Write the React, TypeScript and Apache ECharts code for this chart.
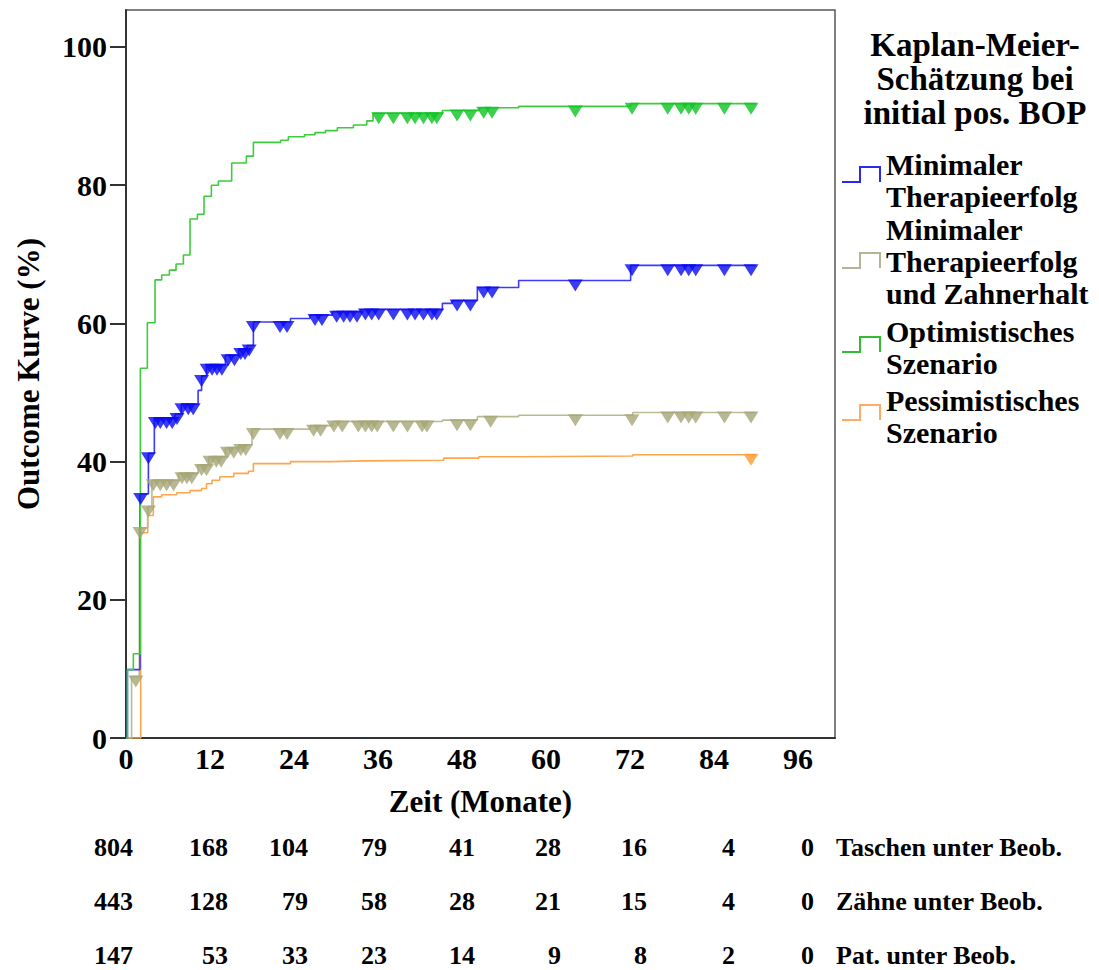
import React, { useEffect, useRef } from 'react';
import * as echarts from 'echarts';

// ---- axis ticks ----
const xTicks = [0, 12, 24, 36, 48, 60, 72, 84, 96];
const yTicks = [0, 20, 40, 60, 80, 100];

// ---- series names ----
const nameBlue = 'Minimaler Therapieerfolg';
const nameTan = 'Minimaler Therapieerfolg und Zahnerhalt';
const nameGreen = 'Optimistisches Szenario';
const nameOrange = 'Pessimistisches Szenario';

// ---- Kaplan-Meier steps: [month, outcome %] ----
const blueSteps: [number, number][] = [
  [0, 0], [0.2, 9.9], [2.0, 35.3], [3.2, 41.2], [4.05, 46.3], [7.0, 46.9], [7.9, 48.3],
  [10.3, 50.3], [10.8, 52.4], [11.5, 54.0], [14.2, 55.4], [16.1, 56.3], [17.3, 56.8],
  [18.2, 60.2], [23.5, 60.7], [26.3, 61.2], [29.5, 61.7], [33.5, 62.0], [45.2, 62.9],
  [46.6, 63.3], [50.2, 65.2], [56.1, 66.2], [72.1, 68.4], [90, 68.4],
];
const tanSteps: [number, number][] = [
  [0, 0], [0.8, 8.9], [1.9, 30.4], [3.1, 33.5], [3.7, 37.3], [7.5, 38.3], [10.3, 39.5],
  [11.8, 40.7], [14.2, 42.0], [16.1, 42.4], [18.0, 44.7], [26.3, 45.2], [29.5, 45.8],
  [45.2, 46.0], [50.2, 46.5], [56.1, 46.7], [72.4, 47.1], [90, 47.1],
];
const greenSteps: [number, number][] = [
  [0, 0], [0.2, 9.9], [1.05, 12.2], [2.05, 53.5], [3.05, 60.1], [4.15, 66.3], [5.1, 67.0],
  [6.2, 67.7], [7.15, 68.6], [8.2, 69.9], [9.15, 75.1], [10.2, 75.8], [11.15, 78.4],
  [12.2, 80.0], [13.2, 80.6], [15.1, 83.2], [17.2, 84.2], [18.2, 86.2], [22.1, 86.5],
  [23.2, 87.0], [25.5, 87.3], [27.0, 87.6], [28.5, 87.9], [30.2, 88.3], [32.5, 88.7],
  [34.4, 89.3], [35.3, 90.4], [45.2, 90.8], [50.5, 91.2], [56.1, 91.4], [72.1, 91.8], [90, 91.8],
];
const orangeSteps: [number, number][] = [
  [0, 0], [2.1, 29.7], [3.1, 32.2], [3.9, 34.9], [5.1, 35.2], [7.25, 35.5], [9.15, 35.8],
  [10.8, 36.1], [11.5, 36.8], [12.3, 37.3], [13.4, 37.8], [15.4, 38.3], [17.5, 38.6],
  [18.2, 39.7], [23.5, 40.0], [29.2, 40.1], [34.2, 40.2], [45.4, 40.5], [50.4, 40.7],
  [56.4, 40.8], [72.4, 41.0], [90, 41.0],
];

// ---- censoring times (months) ----
const blueCensor = [
  2.1, 3.2, 4.2, 4.9, 5.8, 6.6, 7.3, 8.0, 8.9, 9.6, 10.8, 11.6, 12.3, 13.0, 13.7, 14.6, 15.5,
  16.4, 17.0, 17.6, 18.2, 22.0, 23.0, 27.0, 28.0, 30.1, 31.1, 32.0, 33.0, 34.2, 35.1, 36.1,
  38.2, 40.2, 41.3, 42.5, 43.7, 44.4, 47.3, 49.2, 51.1, 52.3, 64.2, 72.3, 77.4, 79.3, 80.4,
  81.4, 85.5, 89.3,
];
const tanCensor = [
  1.4, 2.0, 3.2, 3.9, 4.9, 5.8, 6.8, 8.0, 8.7, 9.4, 10.8, 11.5, 12.0, 12.9, 13.6, 14.5, 15.4,
  16.4, 17.1, 18.2, 22.0, 23.0, 26.8, 27.8, 29.7, 30.9, 33.2, 34.2, 35.1, 35.9, 38.2, 40.2,
  42.3, 43.0, 47.3, 49.2, 52.1, 64.2, 72.3, 77.4, 79.3, 80.4, 81.4, 85.5, 89.3,
];
const greenCensor = [
  36.1, 38.2, 40.2, 41.3, 42.5, 43.7, 44.4, 47.3, 49.2, 51.1, 52.3, 64.2, 72.3, 77.4, 79.3,
  80.4, 81.4, 85.5, 89.3,
];
const orangeCensor = [89.3];

// ---- number at risk table ----
const riskLabels = ['Taschen unter Beob.', 'Zähne unter Beob.', 'Pat. unter Beob.'];
const riskTaschen = [804, 168, 104, 79, 41, 28, 16, 4, 0];
const riskZaehne = [443, 128, 79, 58, 28, 21, 15, 4, 0];
const riskPatienten = [147, 53, 33, 23, 14, 9, 8, 2, 0];

// ---- legend ----
const legendTitle = 'Kaplan-Meier-\nSchätzung bei\ninitial pos. BOP';
const legendTexts = [
  'Minimaler\nTherapieerfolg',
  'Minimaler\nTherapieerfolg\nund Zahnerhalt',
  'Optimistisches\nSzenario',
  'Pessimistisches\nSzenario',
];

// ---- layout / style (not data) ----
const FONT = '"Liberation Serif", "Times New Roman", serif';
const colBlue = { line: '#3a3aff', mark: '#0a0af0', legend: '#2a2aee' };
const colTan = { line: '#babb94', mark: '#a5a576', legend: '#b5b596' };
const colGreen = { line: '#3ccc3c', mark: '#0cc423', legend: '#33bb33' };
const colOrange = { line: '#ffa54c', mark: '#ff9a2e', legend: '#ffaa66' };

function valueAt(steps: [number, number][], t: number): number {
  let v = steps[0][1];
  for (const [s, val] of steps) {
    if (s <= t) v = val;
    else break;
  }
  return v;
}

const downTriangle = 'path://M0,0 L2,0 L1,1.6 Z';

function lineSeries(name: string, steps: [number, number][], color: string) {
  return {
    name,
    type: 'line',
    step: 'end',
    data: steps,
    showSymbol: false,
    symbol: 'none',
    lineStyle: { color, width: 1.6 },
    z: 2,
  };
}

function censorSeries(name: string, steps: [number, number][], times: number[], color: string) {
  return {
    name,
    type: 'scatter',
    data: times.map((t) => [t, valueAt(steps, t)]),
    symbol: downTriangle,
    symbolSize: [15, 12],
    symbolOffset: [0, 5],
    itemStyle: { color },
    z: 3,
  };
}

export default function App() {
  const ref = useRef<HTMLDivElement>(null);

  useEffect(() => {
    if (!ref.current) return;
    const chart = echarts.init(ref.current, undefined, { renderer: 'svg' });

    const graphics: any[] = [];
    // legend title
    graphics.push({
      type: 'text', x: 975, y: 79,
      style: {
        text: legendTitle, font: `bold 33px ${FONT}`, lineHeight: 34, fill: '#000',
        align: 'center', verticalAlign: 'middle',
      },
    });
    // legend items
    const itemCenterY = [180, 261, 347, 416];
    const iconLowY = [182, 268, 352, 420];
    const iconColors = [colBlue.legend, colTan.legend, colGreen.legend, colOrange.legend];
    legendTexts.forEach((txt, i) => {
      const low = iconLowY[i];
      const high = low - 15;
      graphics.push({
        type: 'polyline',
        shape: { points: [[842, low], [860, low], [860, high], [880, high], [880, low]] },
        style: { stroke: iconColors[i], lineWidth: 2, fill: 'none' },
      });
      graphics.push({
        type: 'text', x: 886, y: itemCenterY[i],
        style: {
          text: txt, font: `bold 30px ${FONT}`, lineHeight: 32, fill: '#000',
          align: 'left', verticalAlign: 'middle',
        },
      });
    });
    // risk table
    const colRight = [133, 228, 308, 387, 475, 561, 647, 735, 814];
    const rowY = [847, 901, 955];
    [riskTaschen, riskZaehne, riskPatienten].forEach((row, r) => {
      row.forEach((n, c) => {
        graphics.push({
          type: 'text', x: colRight[c], y: rowY[r],
          style: { text: String(n), font: `bold 26px ${FONT}`, fill: '#000', align: 'right', verticalAlign: 'middle' },
        });
      });
      graphics.push({
        type: 'text', x: 836, y: rowY[r],
        style: { text: riskLabels[r], font: `bold 26px ${FONT}`, fill: '#000', align: 'left', verticalAlign: 'middle' },
      });
    });

    const labelStyle = { fontFamily: FONT, fontWeight: 'bold', fontSize: 30, color: '#000' };

    chart.setOption({
      animation: false,
      backgroundColor: '#fff',
      grid: {
        left: 126, top: 10, right: 264, bottom: 232,
        show: true, borderColor: '#555', borderWidth: 1.5, backgroundColor: 'transparent',
      },
      xAxis: {
        type: 'value',
        min: 0,
        max: 101.3,
        name: 'Zeit (Monate)',
        nameLocation: 'middle',
        nameGap: 48,
        nameTextStyle: { fontFamily: FONT, fontWeight: 'bold', fontSize: 31, color: '#000' },
        axisLine: { show: true, lineStyle: { color: '#333', width: 2 } },
        axisTick: { show: false },
        axisLabel: { ...labelStyle, margin: 5, customValues: xTicks },
        splitLine: { show: false },
      },
      yAxis: {
        type: 'value',
        min: 0,
        max: 105.35,
        name: 'Outcome Kurve (%)',
        nameLocation: 'middle',
        nameGap: 82,
        nameTextStyle: { fontFamily: FONT, fontWeight: 'bold', fontSize: 31, color: '#000' },
        axisLine: { show: true, lineStyle: { color: '#333', width: 2 } },
        axisTick: { show: true, length: 16, lineStyle: { color: '#333', width: 2 }, customValues: yTicks },
        axisLabel: { ...labelStyle, margin: 19, customValues: yTicks },
        splitLine: { show: false },
      },
      series: [
        lineSeries(nameOrange, orangeSteps, colOrange.line),
        lineSeries(nameTan, tanSteps, colTan.line),
        lineSeries(nameBlue, blueSteps, colBlue.line),
        lineSeries(nameGreen, greenSteps, colGreen.line),
        censorSeries(nameOrange, orangeSteps, orangeCensor, colOrange.mark),
        censorSeries(nameTan, tanSteps, tanCensor, colTan.mark),
        censorSeries(nameBlue, blueSteps, blueCensor, colBlue.mark),
        censorSeries(nameGreen, greenSteps, greenCensor, colGreen.mark),
      ],
      graphic: { elements: graphics },
    });

    return () => chart.dispose();
  }, []);

  return (
    <div
      ref={ref}
      style={{ position: 'absolute', left: 0, top: 0, width: 1099, height: 970, background: '#fff' }}
    />
  );
}
